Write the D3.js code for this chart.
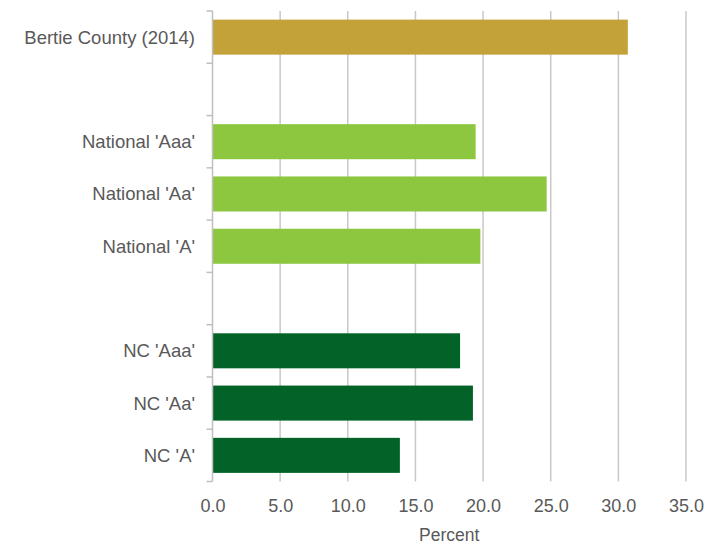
<!DOCTYPE html>
<html><head><meta charset="utf-8">
<script src="https://cdn.jsdelivr.net/npm/d3@7"></script>
<style>body{margin:0;background:#fff;} svg{display:block;}</style>
</head><body>
<svg id="c" width="719" height="544"></svg>
<script>
const categories = ["Bertie County (2014)", "gap1", "National 'Aaa'", "National 'Aa'", "National 'A'", "gap2", "NC 'Aaa'", "NC 'Aa'", "NC 'A'"];
const values = [30.7, null, 19.45, 24.7, 19.8, null, 18.3, 19.25, 13.85];
const groups = ["bertie", null, "national", "national", "national", null, "nc", "nc", "nc"];
const xTicks = [0, 5, 10, 15, 20, 25, 30, 35];
const groupColors = {bertie: "#C4A23A", national: "#8DC63F", nc: "#026227"};

const svg = d3.select("#c");
const m = {l: 212.5, r: 33, t: 11, b: 62.5};
const W = 719, H = 544;
const x = d3.scaleLinear().domain([0, 35]).range([m.l, W - m.r]);
const y = d3.scaleBand().domain(categories).range([m.t, H - m.b]).paddingInner(0.33).paddingOuter(0.165);
const font = "'Liberation Sans', Arial, sans-serif";
const txt = "#595959";

// gridlines
svg.append("g").selectAll("line").data(xTicks.slice(1)).join("line")
  .attr("x1", d => x(d)).attr("x2", d => x(d))
  .attr("y1", m.t).attr("y2", H - m.b)
  .attr("stroke", "#c8c8c8").attr("stroke-width", 1.5);

// bars
const data = categories.map((c, i) => ({c, v: values[i], g: groups[i]})).filter(d => d.v != null);
svg.append("g").selectAll("rect").data(data).join("rect")
  .attr("x", x(0)).attr("y", d => y(d.c))
  .attr("width", d => x(d.v) - x(0)).attr("height", y.bandwidth())
  .attr("fill", d => groupColors[d.g]);

// y axis line & ticks at band boundaries
const bounds = d3.range(categories.length + 1).map(i => m.t + i * ((H - m.b - m.t) / categories.length));
const ya = svg.append("g");
ya.append("line").attr("x1", x(0)).attr("x2", x(0)).attr("y1", m.t).attr("y2", H - m.b)
  .attr("stroke", "#bfbfbf").attr("stroke-width", 1.5);
ya.selectAll("line.t").data(bounds).join("line").attr("class", "t")
  .attr("x1", x(0) - 6).attr("x2", x(0)).attr("y1", d => d).attr("y2", d => d)
  .attr("stroke", "#bfbfbf").attr("stroke-width", 1.5);
ya.selectAll("text").data(categories.filter(c => !c.startsWith("gap"))).join("text")
  .attr("x", 195).attr("y", d => y(d) + y.bandwidth() / 2).attr("dy", "0.35em")
  .attr("text-anchor", "end").attr("font-family", font).attr("font-size", 18.5)
  .attr("fill", txt).text(d => d);

// x labels
const xAxis = d3.axisBottom(x).tickValues(xTicks).tickFormat(d3.format(".1f")).tickSize(0).tickPadding(10);
const xg = svg.append("g").attr("transform", "translate(0,489)").call(xAxis);
xg.select(".domain").remove();
xg.selectAll("text").attr("font-family", font).attr("font-size", 18).attr("fill", txt);

svg.append("text").attr("x", (x(0) + x(35)) / 2).attr("y", 541)
  .attr("text-anchor", "middle").attr("font-family", font).attr("font-size", 17.5)
  .attr("fill", txt).text("Percent");
</script>
</body></html>
